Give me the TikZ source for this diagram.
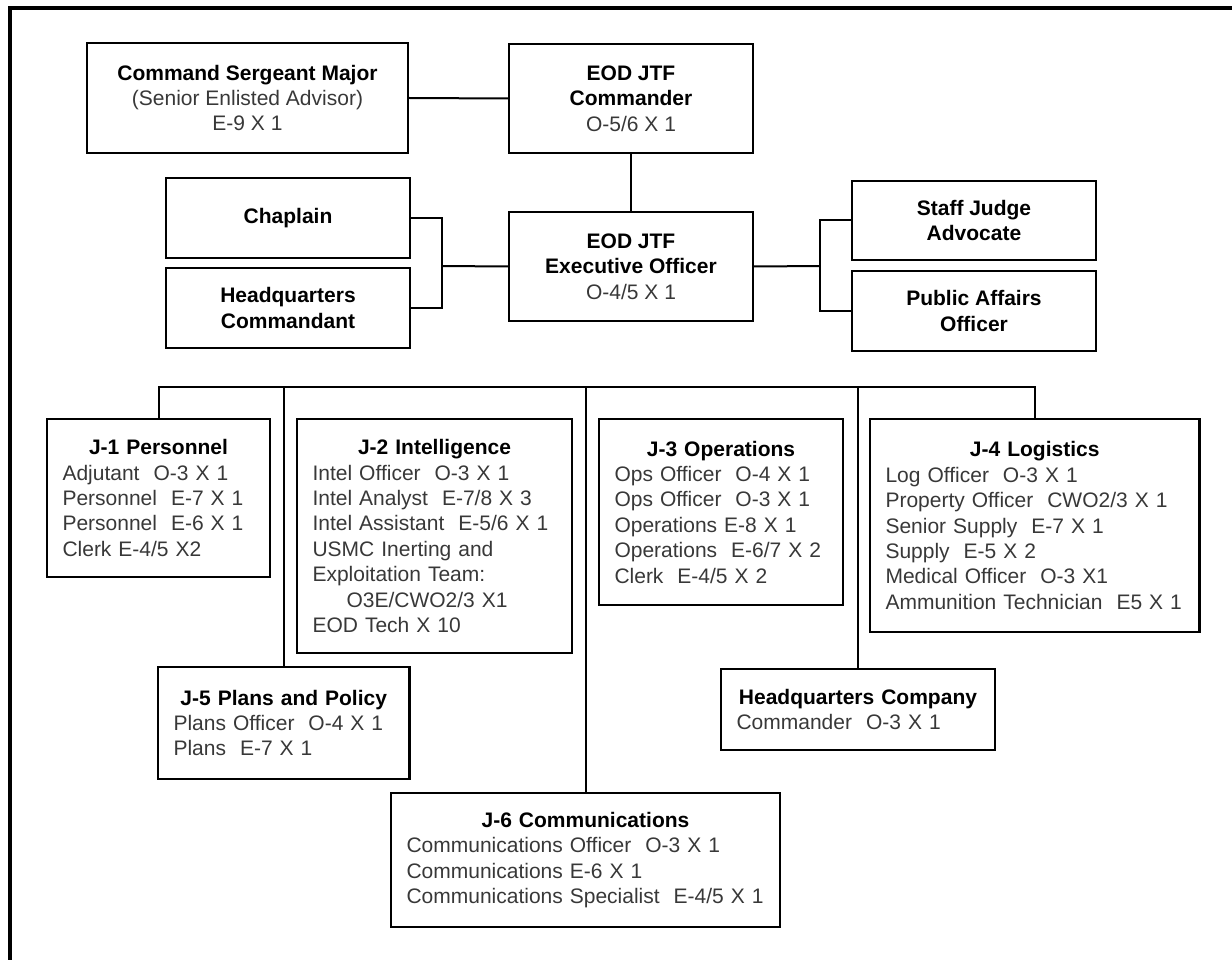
\documentclass[tikz,border=0pt]{standalone}
\usepackage{fontspec}
\setmainfont{Liberation Sans}
\newcommand{\boxhead}[1]{{\color{black}\bfseries #1}}
\newcommand{\listhead}[1]{\makebox[\linewidth]{\color{black}\bfseries #1}\\}
\tikzset{
  orgbox/.style={draw, line width=2.4pt, inner sep=0pt, align=center, text=black!78},
  listbox/.style={draw, line width=2.4pt, inner xsep=15.5pt, inner ysep=0pt, align=left, text=black!78},
  link/.style={line width=2pt},
}
\begin{document}
\begin{tikzpicture}[x=1pt, y=-1pt, font=\fontsize{21}{25.4}\selectfont]
\useasboundingbox (0,0) rectangle (1232,960);
% frame, only top and left edge on the page
\draw[line width=4pt] (9.5,990) -- (9.5,7.7) -- (1260,7.7);

% command group
\node[orgbox, minimum width=321pt, minimum height=110pt] (csm) at (247.5,98)
  {\boxhead{Command Sergeant Major}\\(Senior Enlisted Advisor)\\E-9 X 1};
\node[orgbox, minimum width=244pt, minimum height=109pt] (cmd) at (631,98.5)
  {\boxhead{EOD JTF}\\\boxhead{Commander}\\O-5/6 X 1};
\node[orgbox, minimum width=244pt, minimum height=109pt] (xo) at (631,266.5)
  {\boxhead{EOD JTF}\\\boxhead{Executive Officer}\\O-4/5 X 1};
\node[orgbox, minimum width=244pt, minimum height=80pt] (chap) at (288,218)
  {\boxhead{Chaplain}};
\node[orgbox, minimum width=244pt, minimum height=80pt] (hqcmdt) at (288,308)
  {\boxhead{Headquarters}\\\boxhead{Commandant}};
\node[orgbox, minimum width=244pt, minimum height=79pt] (sja) at (974,220.5)
  {\boxhead{Staff Judge}\\\boxhead{Advocate}};
\node[orgbox, minimum width=244pt, minimum height=80pt] (pao) at (974,311)
  {\boxhead{Public Affairs}\\\boxhead{Officer}};

\coordinate (lbrk) at (442,266);
\coordinate (rbrk) at (820,266);
\coordinate (bus) at (0,387);

% staff sections
\node[listbox, text width=192pt, minimum height=158pt] (j1) at (158.5,498)
  {\listhead{J-1 Personnel}Adjutant~~O-3 X 1\\Personnel~~E-7 X 1\\Personnel~~E-6 X 1\\Clerk E-4/5 X2};
\node[listbox, text width=244pt, minimum height=234pt] (j2) at (434.5,536)
  {\listhead{J-2 Intelligence}Intel Officer~~O-3 X 1\\Intel Analyst~~E-7/8 X 3\\Intel Assistant~~E-5/6 X 1\\
   USMC Inerting and\\Exploitation Team:\\\hspace*{34pt}O3E/CWO2/3 X1\\EOD Tech X 10};
\node[listbox, text width=213pt, minimum height=186pt] (j3) at (721,512)
  {\listhead{J-3 Operations}Ops Officer~~O-4 X 1\\Ops Officer~~O-3 X 1\\Operations E-8 X 1\\
   Operations~~E-6/7 X 2\\Clerk~~E-4/5 X 2};
\node[listbox, text width=298.5pt, minimum height=213pt] (j4) at (1034.75,525.5)
  {\listhead{J-4 Logistics}Log Officer~~O-3 X 1\\Property Officer~~CWO2/3 X 1\\Senior Supply~~E-7 X 1\\
   Supply~~E-5 X 2\\Medical Officer~~O-3 X1\\Ammunition Technician~~E5 X 1};
\node[listbox, text width=220.5pt, minimum height=112pt] (j5) at (283.75,723)
  {\listhead{J-5 Plans and Policy}Plans Officer~~O-4 X 1\\Plans~~E-7 X 1};
\node[listbox, text width=243pt, minimum height=81pt] (hqco) at (858,709.5)
  {\listhead{Headquarters Company}Commander~~O-3 X 1};
\node[listbox, text width=358pt, minimum height=134pt] (j6) at (585.5,860)
  {\listhead{J-6 Communications}Communications Officer~~O-3 X 1\\Communications E-6 X 1\\
   Communications Specialist~~E-4/5 X 1};

% connectors
\draw[link] (csm.east) -- (cmd.west);
\draw[link] (cmd) -- (xo);
\draw[link] (chap.east) -| (lbrk) |- (hqcmdt.east);
\draw[link] (xo.west) -- (lbrk);
\draw[link] (sja.west) -| (rbrk) |- (pao.west);
\draw[link] (xo.east) -- (rbrk);
\draw[link] (j1.north) -- (j1.north |- bus) -- (j4.north |- bus) -- (j4.north);
\foreach \d in {j5, j6, hqco}
  \draw[link] (\d.north) -- (\d.north |- bus);
\end{tikzpicture}
\end{document}
